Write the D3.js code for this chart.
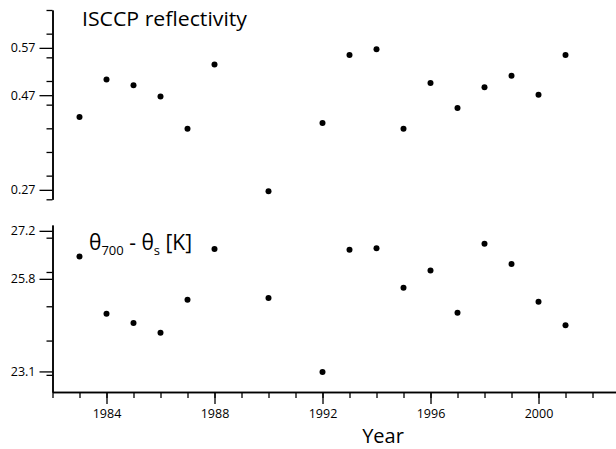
<!DOCTYPE html>
<html>
<head>
<meta charset="utf-8">
<script src="https://cdn.jsdelivr.net/npm/d3@7"></script>
<style>
  html, body { margin: 0; padding: 0; background: #fff; }
  svg { display: block; }
  text { font-family: "Open Sans", "Noto Sans", sans-serif; fill: #000; }
</style>
</head>
<body>
<svg id="chart" width="616" height="449"></svg>
<script>
// ---- data ----
const years = [1983, 1984, 1985, 1986, 1987, 1988, 1990, 1992, 1993, 1994, 1995, 1996, 1997, 1998, 1999, 2000, 2001];
const reflectivity = [0.424, 0.503, 0.491, 0.467, 0.399, 0.535, 0.267, 0.411, 0.555, 0.567, 0.399, 0.496, 0.443, 0.487, 0.511, 0.471, 0.555];
const thetaDiff = [26.45, 24.78, 24.51, 24.23, 25.19, 26.67, 25.24, 23.08, 26.65, 26.69, 25.54, 26.04, 24.81, 26.82, 26.23, 25.13, 24.45];

const reflMajorTicks = [0.27, 0.47, 0.57];
const reflMinorTicks = [0.25, 0.30, 0.35, 0.40, 0.45, 0.50, 0.55, 0.60, 0.65];
const thetaMajorTicks = [23.1, 25.8, 27.2];
const thetaMinorTicks = [23, 24, 25, 26, 27];
const yearMajorTicks = [1984, 1988, 1992, 1996, 2000];
const yearMinorTicks = d3.range(1982, 2003);

const topTitle = "ISCCP reflectivity";
const xTitle = "Year";

// ---- drawing ----
const svg = d3.select("#chart");

const x = d3.scaleLinear().domain([1982, 2002.87]).range([52.5, 616]);
const yTop = d3.scaleLinear().domain([0.25, 0.65]).range([199.3, 10]);
const yBot = d3.scaleLinear().domain([22.5, 27.37]).range([392, 225]);

function styleAxis(g) {
  g.selectAll("path.domain").attr("stroke", "#000").attr("stroke-width", 1.5);
  g.selectAll(".tick line").attr("stroke", "#000").attr("stroke-width", 1.3);
  g.selectAll(".tick text").style("font-family", "'Open Sans', 'Noto Sans', sans-serif")
    .style("font-size", "12.5px").attr("fill", "#000");
}

// Top panel y axis
const gTopMinor = svg.append("g").attr("transform", `translate(${x(1982)},0)`)
  .call(d3.axisLeft(yTop).tickValues(reflMinorTicks).tickSize(6).tickSizeOuter(0).tickFormat(""));
styleAxis(gTopMinor);
const gTopMajor = svg.append("g").attr("transform", `translate(${x(1982)},0)`)
  .call(d3.axisLeft(yTop).tickValues(reflMajorTicks).tickSize(13).tickSizeOuter(0).tickPadding(4).tickFormat(d3.format(".2f")));
styleAxis(gTopMajor);

// Bottom panel y axis
const gBotMinor = svg.append("g").attr("transform", `translate(${x(1982)},0)`)
  .call(d3.axisLeft(yBot).tickValues(thetaMinorTicks).tickSize(6).tickSizeOuter(0).tickFormat(""));
styleAxis(gBotMinor);
const gBotMajor = svg.append("g").attr("transform", `translate(${x(1982)},0)`)
  .call(d3.axisLeft(yBot).tickValues(thetaMajorTicks).tickSize(13).tickSizeOuter(0).tickPadding(4).tickFormat(d3.format(".1f")));
styleAxis(gBotMajor);

// X axis
const gXMinor = svg.append("g").attr("transform", `translate(0,${yBot(22.5)})`)
  .call(d3.axisBottom(x).tickValues(yearMinorTicks).tickSize(6).tickSizeOuter(0).tickFormat(""));
styleAxis(gXMinor);
const gXMajor = svg.append("g").attr("transform", `translate(0,${yBot(22.5)})`)
  .call(d3.axisBottom(x).tickValues(yearMajorTicks).tickSize(12).tickSizeOuter(0).tickPadding(6).tickFormat(d3.format("d")));
styleAxis(gXMajor);
gXMajor.selectAll(".tick text").attr("dy", "0.71em").attr("y", 17);

// Points
svg.append("g").selectAll("circle").data(years).join("circle")
  .attr("cx", d => x(d)).attr("cy", (d, i) => yTop(reflectivity[i])).attr("r", 3).attr("fill", "#000");
svg.append("g").selectAll("circle").data(years).join("circle")
  .attr("cx", d => x(d)).attr("cy", (d, i) => yBot(thetaDiff[i])).attr("r", 3).attr("fill", "#000");

// Titles
svg.append("text").attr("x", 82).attr("y", 25.5).style("font-size", "20.5px")
  .attr("textLength", 165).attr("lengthAdjust", "spacingAndGlyphs").text(topTitle);

const th = svg.append("text").attr("x", 89).attr("y", 249.5).style("font-size", "21px");
th.append("tspan").text("\u03B8");
th.append("tspan").attr("dy", 5).style("font-size", "13px").text("700");
th.append("tspan").attr("dy", -5).text(" - \u03B8");
th.append("tspan").attr("dy", 5).style("font-size", "13px").text("s");
th.append("tspan").attr("dy", -5).text(" [K]");

svg.append("text").attr("x", 383).attr("y", 443).attr("text-anchor", "middle")
  .style("font-size", "20px").text(xTitle);
</script>
</body>
</html>
